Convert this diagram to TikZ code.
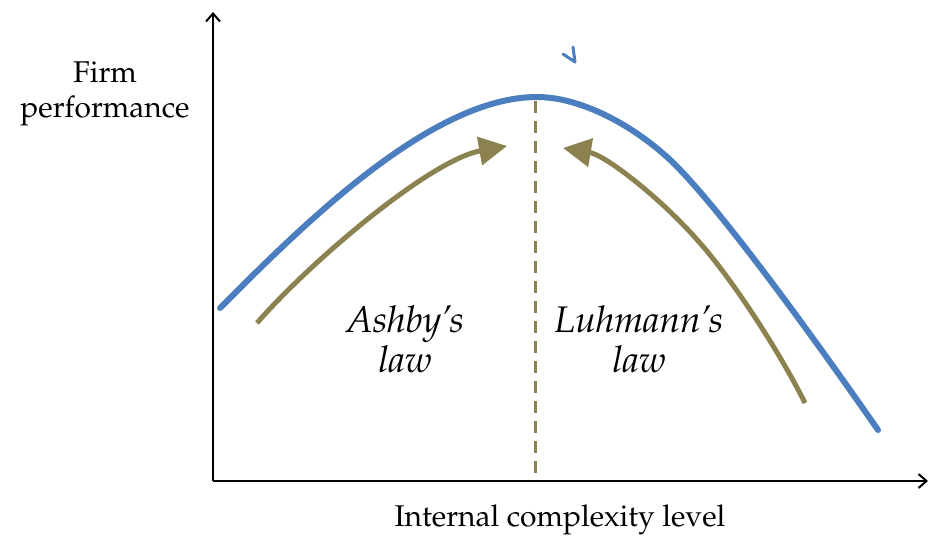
\documentclass[tikz,border=0pt]{standalone}
\usepackage[T1]{fontenc}
\usepackage{mathpazo}
\usetikzlibrary{arrows.meta}
\definecolor{curveblue}{RGB}{74,126,190}
\definecolor{lawolive}{RGB}{140,130,80}
\tikzset{
  axisline/.style={line width=2pt, -{Straight Barb[length=8pt,width=14pt,line width=2pt]}},
  perfcurve/.style={curveblue, line width=6pt, line cap=round},
  lawarrow/.style={lawolive, line width=5pt, -{Triangle[length=28pt,width=28pt]}},
  peakline/.style={lawolive, line width=3pt, dash pattern=on 12pt off 8pt},
  plain/.style={inner sep=0pt, font=\fontsize{30}{35}\selectfont, align=center},
  lawtext/.style={inner sep=0pt, font=\fontsize{37}{40}\selectfont\itshape, align=center}
}
\begin{document}
\begin{tikzpicture}[x=1pt,y=-1pt]
\useasboundingbox (0,0) rectangle (941,551);
% axes
\coordinate (origin) at (213,481);
\coordinate (ytop) at (213,12);
\coordinate (xend) at (928,481);
\draw[axisline] (origin) -- (ytop);
\draw[axisline] (origin) -- (xend);
% performance curve
\coordinate (cStart) at (220,308);
\coordinate (cPeak) at (537,97);
\coordinate (cMid) at (667,157);
\coordinate (cEnd) at (878,430);
\draw[perfcurve] (cStart) .. controls (300,228) and (430,97) .. (cPeak)
  .. controls (577,97) and (627,121) .. (cMid)
  .. controls (717,202) and (828,358) .. (cEnd);
% peak line
\coordinate (peak) at (535,101);
\coordinate (peakbase) at (535,475);
\draw[peakline] (peak) -- (peakbase);
% law arrows
\coordinate (aStart) at (257,323);
\coordinate (aEnd) at (507,146);
\draw[lawarrow] (aStart) .. controls (310,262) and (430,160) .. (aEnd);
\coordinate (lStart) at (805,403);
\coordinate (lMid) at (700,243);
\coordinate (lEnd) at (563,148);
\draw[lawarrow] (lStart) .. controls (780,353) and (735,283) .. (lMid)
  .. controls (660,197) and (605,155) .. (lEnd);
% small mark
\coordinate (m1) at (563,54);
\coordinate (m2) at (575,62);
\coordinate (m3) at (573,47);
\draw[curveblue, line width=3pt, line cap=round, line join=round] (m1) -- (m2) -- (m3);
% texts (base anchor = baseline of last line)
\node[plain, anchor=base] (ylab) at (105,117) {Firm\\performance};
\node[plain, anchor=base] (xlab) at (560,526) {Internal complexity level};
\node[lawtext, anchor=base] (ashby) at (405,372) {Ashby's\\law};
\node[lawtext, anchor=base] (luhmann) at (639,372) {Luhmann's\\law};
\end{tikzpicture}
\end{document}
